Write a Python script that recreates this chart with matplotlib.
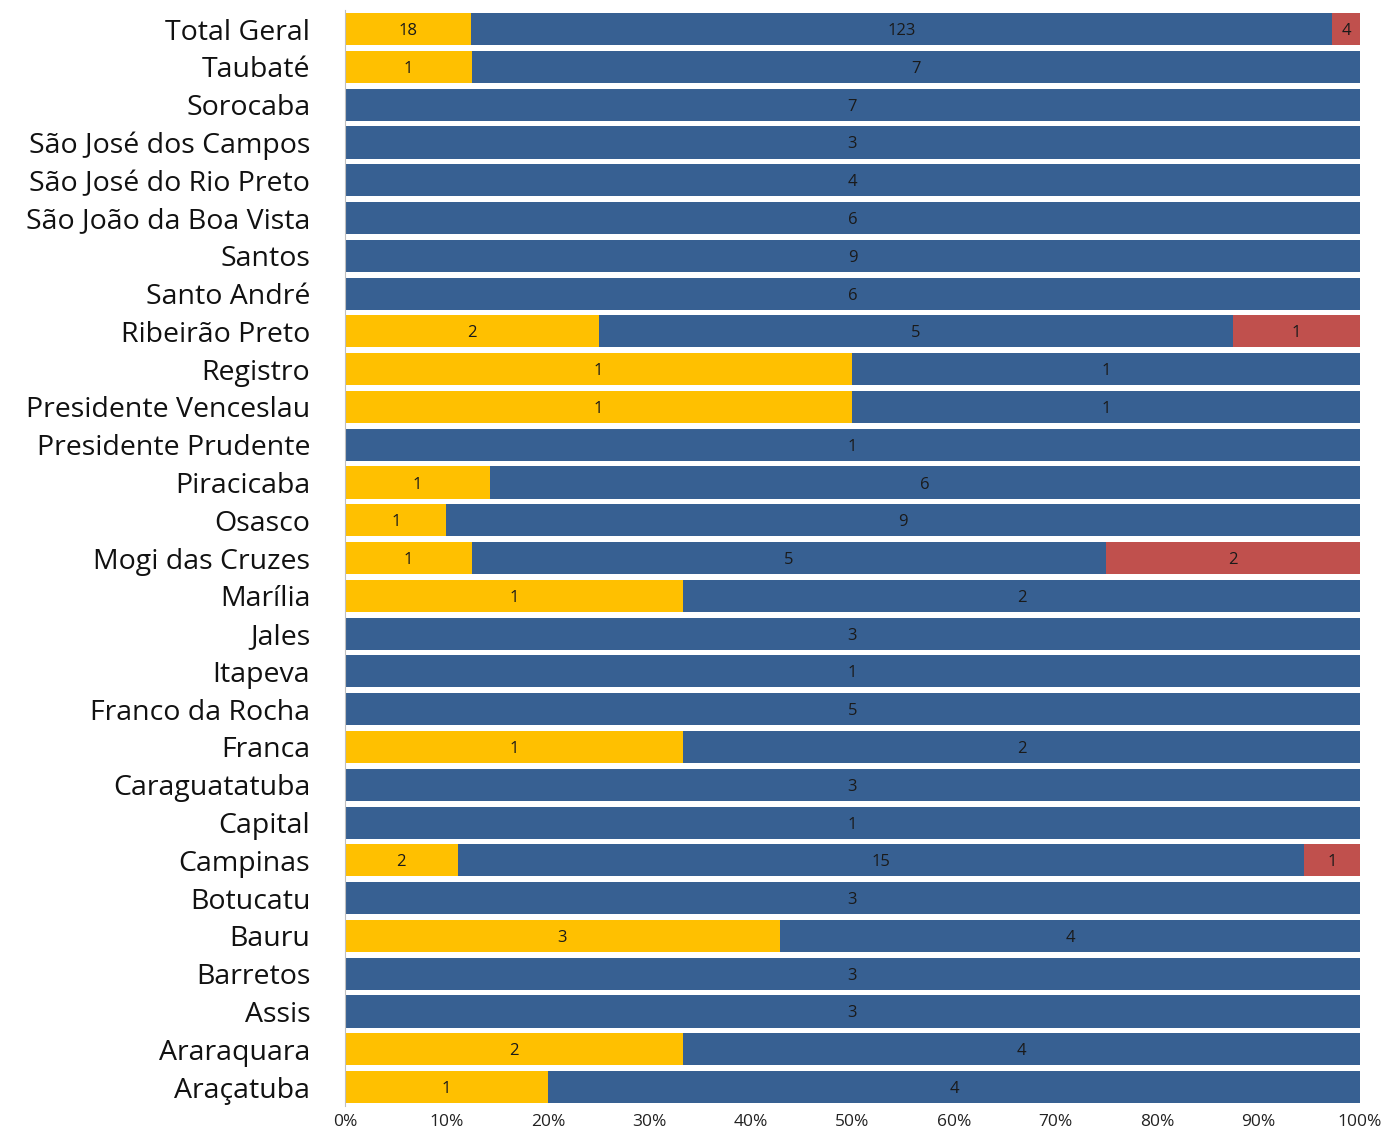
import matplotlib
matplotlib.use("Agg")
import matplotlib.pyplot as plt
import numpy as np

categories = ["Araçatuba", "Araraquara", "Assis", "Barretos", "Bauru", "Botucatu",
              "Campinas", "Capital", "Caraguatatuba", "Franca", "Franco da Rocha",
              "Itapeva", "Jales", "Marília", "Mogi das Cruzes", "Osasco", "Piracicaba",
              "Presidente Prudente", "Presidente Venceslau", "Registro", "Ribeirão Preto",
              "Santo André", "Santos", "São João da Boa Vista", "São José do Rio Preto",
              "São José dos Campos", "Sorocaba", "Taubaté", "Total Geral"]
yellow_vals = [1, 2, 0, 0, 3, 0, 2, 0, 0, 1, 0, 0, 0, 1, 1, 1, 1, 0, 1, 1, 2, 0, 0, 0, 0, 0, 0, 1, 18]
blue_vals = [4, 4, 3, 3, 4, 3, 15, 1, 3, 2, 5, 1, 3, 2, 5, 9, 6, 1, 1, 1, 5, 6, 9, 6, 4, 3, 7, 7, 123]
red_vals = [0, 0, 0, 0, 0, 0, 1, 0, 0, 0, 0, 0, 0, 0, 2, 0, 0, 0, 0, 0, 1, 0, 0, 0, 0, 0, 0, 0, 4]
xtick_labels = ["0%", "10%", "20%", "30%", "40%", "50%", "60%", "70%", "80%", "90%", "100%"]

plt.rcParams['font.family'] = ['Open Sans', 'DejaVu Sans']

fig = plt.figure(figsize=(13.86, 11.35), dpi=100)
ax = fig.add_axes([0.2489, 0.0256, 0.9812 - 0.2489, 0.991 - 0.0256])

y = np.arange(len(categories))
tot = np.array(yellow_vals) + np.array(blue_vals) + np.array(red_vals)
series = [(yellow_vals, "#FFC000"), (blue_vals, "#376092"), (red_vals, "#C0504D")]
left = np.zeros(len(categories))
for vals, col in series:
    v = np.array(vals, dtype=float)
    frac = v / tot
    ax.barh(y, frac, left=left, height=0.85, color=col, edgecolor="none")
    for i in range(len(categories)):
        if v[i] > 0:
            ax.text(left[i] + frac[i] / 2, y[i], f"{int(v[i])}", ha="center",
                    va="center_baseline", fontsize=12, color="#1a1a1a")
    left += frac

ax.set_xlim(0, 1)
ax.set_ylim(-0.5, len(categories) - 0.5)
ax.set_yticks(y)
ax.set_yticklabels(categories, fontsize=20.5, color="#111111")
ax.set_xticks(np.linspace(0, 1, 11))
ax.set_xticklabels(xtick_labels, fontsize=12.5, color="#222222")
ax.tick_params(axis="y", length=0, pad=25)
ax.tick_params(axis="x", length=0, pad=6)
for s in ["top", "right", "bottom"]:
    ax.spines[s].set_visible(False)
ax.spines["left"].set_color("#bfbfbf")

fig.savefig("out.png", dpi=100)
